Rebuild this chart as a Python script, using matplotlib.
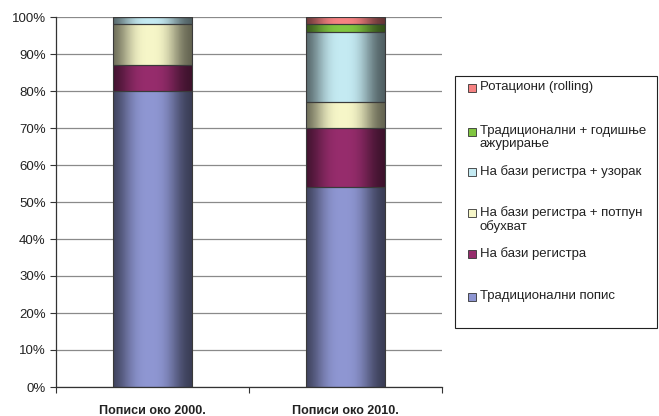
import numpy as np
import matplotlib
matplotlib.use("Agg")
import matplotlib.pyplot as plt
from matplotlib.patches import Rectangle
from matplotlib.colors import LinearSegmentedColormap
from matplotlib.ticker import FixedLocator, PercentFormatter

plt.rcParams['font.family'] = ['Liberation Sans', 'DejaVu Sans']

categories = ["Пописи око 2000.", "Пописи око 2010."]
series_names = [
    "Традиционални попис",
    "На бази регистра",
    "На бази регистра + потпун\nобухват",
    "На бази регистра + узорак",
    "Традиционални + годишње\nажурирање",
    "Ротациони (rolling)",
]
traditional = [80, 54]
register = [7, 16]
register_full = [11, 7]
register_sample = [2, 19]
trad_annual = [0, 2]
rolling = [0, 2]
series_values = [traditional, register, register_full, register_sample, trad_annual, rolling]
yticks = [0, 10, 20, 30, 40, 50, 60, 70, 80, 90, 100]

colors = ["#8e96d2", "#962c6c", "#f6f6c8", "#c4eaf2", "#80c640", "#f68282"]

W, H = 659, 416
fig = plt.figure(figsize=(W / 100, H / 100), dpi=100)
ax = fig.add_axes([56 / W, (H - 387) / H, 386 / W, 370 / H])

x = np.arange(len(categories))
bar_w = 0.405
NSTEP = 80
tt = (np.arange(NSTEP) + 0.5) / NSTEP


def shade_cmap(hexcol):
    rgb = np.array(matplotlib.colors.to_rgb(hexcol))
    t = np.linspace(0, 1, 64)
    prof = np.exp(-np.abs((t - 0.47) / 0.36) ** 3)
    fac = 0.38 + 0.62 * prof
    cols = np.clip(rgb[None, :] * fac[:, None], 0, 1)
    return LinearSegmentedColormap.from_list("sh", cols)


bottom = np.zeros(len(categories))
for vals, col in zip(series_values, colors):
    vals = np.array(vals, dtype=float)
    bars = ax.bar(x, vals, bar_w, bottom=bottom, color=col, edgecolor="none", zorder=2)
    cmap = shade_cmap(col)
    for p, v in zip(bars.patches, vals):
        if v <= 0:
            continue
        x0, y0, w, h = p.get_x(), p.get_y(), p.get_width(), p.get_height()
        X = np.linspace(x0, x0 + w, NSTEP + 1)
        Y = np.array([y0, y0 + h])
        ax.pcolormesh(X, Y, tt[None, :], cmap=cmap, vmin=0, vmax=1, shading="flat",
                      edgecolors="none", antialiased=False, zorder=2.5)
    ax.bar(x, vals, bar_w, bottom=bottom, fill=False, edgecolor="#3a3a3a",
           linewidth=0.8, zorder=3)
    bottom += vals

ax.set_xlim(-0.5, len(categories) - 0.5)
ax.set_ylim(0, 100)
ax.set_yticks(yticks)
ax.yaxis.set_major_formatter(PercentFormatter(decimals=0))
ax.set_xticks(x)
ax.set_xticklabels(categories, fontsize=9, fontweight="bold", color="#222222")
ax.xaxis.set_minor_locator(FixedLocator([-0.5, 0.5, 1.5]))
ax.tick_params(axis="x", which="major", length=0, pad=13)
ax.tick_params(axis="x", which="minor", length=4, width=0.8, color="#333333", direction="out")
ax.tick_params(axis="y", length=4.5, width=0.8, color="#333333", labelsize=9.5,
               labelcolor="#222222", pad=3)
ax.yaxis.grid(True, color="#8a8a8a", linewidth=0.9, zorder=0)
ax.set_axisbelow(True)
for s in ["top", "right"]:
    ax.spines[s].set_visible(False)
ax.spines["left"].set_color("#333333")
ax.spines["bottom"].set_color("#333333")
ax.spines["left"].set_linewidth(0.9)
ax.spines["bottom"].set_linewidth(0.9)

# Legend (manual, to mimic layout)
lx0, ly0, lx1, ly1 = 455, 76, 657, 328
fig.patches.append(Rectangle((lx0 / W, 1 - ly1 / H), (lx1 - lx0) / W, (ly1 - ly0) / H,
                             transform=fig.transFigure, facecolor="white",
                             edgecolor="#222222", linewidth=0.8))
entry_y = [88, 132, 172, 213, 254, 297]
order = [5, 4, 3, 2, 1, 0]
for yy, idx in zip(entry_y, order):
    fig.patches.append(Rectangle((468 / W, 1 - (yy + 4) / H), 8 / W, 8 / H,
                                 transform=fig.transFigure, facecolor=colors[idx],
                                 edgecolor="#333333", linewidth=0.6))
    fig.text(480 / W, 1 - (yy - 7) / H, series_names[idx], fontsize=9.5, color="#222222",
             va="top", ha="left", linespacing=1.15)

fig.savefig("out.png", dpi=100)
